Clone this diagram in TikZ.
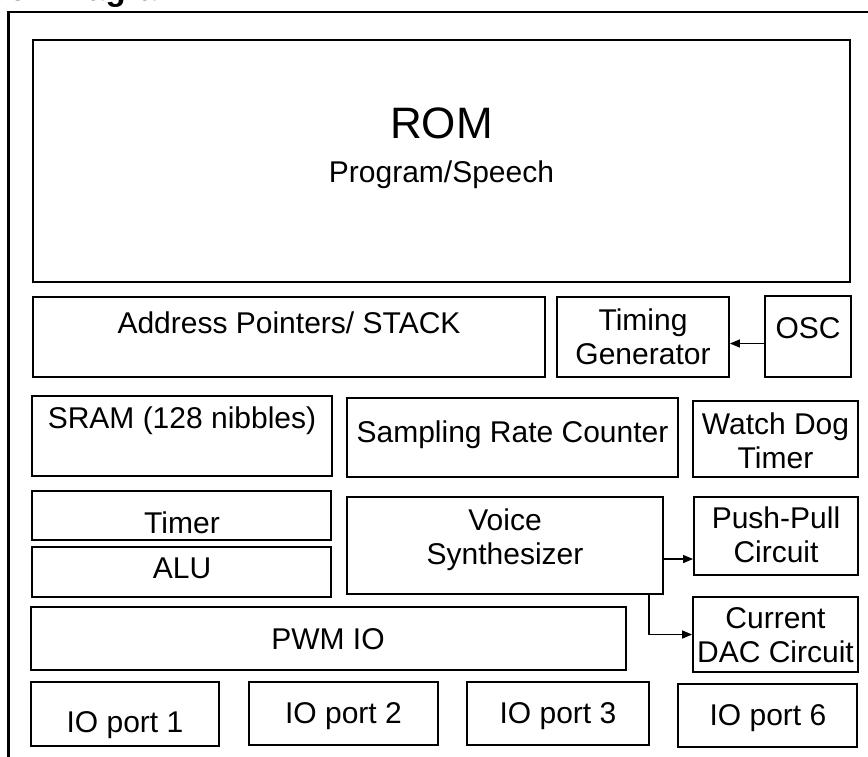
\documentclass[tikz,border=0pt]{standalone}
\usepackage{fontspec}
\setmainfont{Liberation Sans}
\usetikzlibrary{fit,arrows.meta}

\begin{document}
\begin{tikzpicture}[x=1pt,y=-1pt,
  blk/.style={draw,line width=1.8pt,inner sep=0pt},
  txt/.style={inner sep=0pt,anchor=base,font=\fontsize{30}{34}\selectfont},
  mtxt/.style={inner sep=0pt,align=center,font=\fontsize{30}{34}\selectfont},
  arr/.style={line width=1.3pt,-{Triangle[length=10pt,width=8pt]}}]
\useasboundingbox (0,0) rectangle (868,756);
\node[anchor=base west,inner sep=0pt,font=\bfseries\fontsize{33}{36}\selectfont] (title) at (-45,0) {Block Diagram};
\draw[line width=2.2pt] (8.5,12) rectangle (900,800); % ---- outer frame

% ---- memory and clock
\node[blk,fit={(33,40) (850,282)}] (rom) {};
\node[txt,font=\fontsize{44}{48}\selectfont] (romname) at (441.5,138) {ROM};
\node[txt] (romuse) at (441.5,182) {Program/Speech};
\node[blk,fit={(33,297) (545,377)}] (stack) {};
\node[txt] (stacktxt) at (289,333) {Address Pointers/ STACK};
\node[blk,fit={(557,297) (729,377)}] (tg) {};
\node[mtxt] (tgtxt) at (643,337) {Timing\\Generator};
\node[blk,fit={(765,296) (851,377)}] (osc) {};
\node[txt] (osctxt) at (808,338) {OSC};

% ---- middle rows
\node[blk,fit={(32,396) (332,476)}] (sram) {};
\node[txt] (sramtxt) at (182,428) {SRAM (128 nibbles)};
\node[blk,fit={(347,398) (678,477)}] (src) {};
\node[txt] (srctxt) at (512.5,442) {Sampling Rate Counter};
\node[blk,fit={(693,401) (858,477)}] (wdt) {};
\node[mtxt] (wdttxt) at (775.5,441) {Watch Dog\\Timer};
\node[blk,fit={(32,491) (331,540)}] (timer) {};
\node[txt] (timertxt) at (182,533) {Timer};
\node[blk,fit={(32,547) (331,597)}] (alu) {};
\node[txt] (alutxt) at (182,578) {ALU};
\node[blk,fit={(347,497) (663,594)}] (vs) {};
\node[mtxt] (vstxt) at (505,539.5) {Voice\\Synthesizer};
\node[blk,fit={(694,497) (858,575)}] (pp) {};
\node[mtxt] (pptxt) at (776,535) {Push-Pull\\Circuit};
\node[blk,fit={(693,597) (858,672)}] (dac) {};
\node[mtxt] (dactxt) at (775.5,635) {Current\\DAC Circuit};

% ---- io
\node[blk,fit={(31,607) (626,670)}] (pwm) {};
\node[txt] (pwmtxt) at (328,649) {PWM IO};
\node[blk,fit={(31,682) (219,746)}] (io1) {};
\node[txt] (io1txt) at (125,732) {IO port 1};
\node[blk,fit={(249,682) (438,745)}] (io2) {};
\node[txt] (io2txt) at (343.5,723) {IO port 2};
\node[blk,fit={(467,682) (649,745)}] (io3) {};
\node[txt] (io3txt) at (558,723) {IO port 3};
\node[blk,fit={(678,684) (857,747)}] (io6) {};
\node[txt] (io6txt) at (768,725) {IO port 6};

% ---- connections
\draw[arr] ([yshift=-7pt]osc.west) -- ([yshift=-7pt]osc.west -| tg.east);
\coordinate (vsout) at ([yshift=-13.5pt]vs.east);
\draw[arr] (vsout) -- (vsout -| pp.west);
\coordinate (vstap) at ([xshift=-15pt]vs.south east);
\draw[arr] (vstap) |- (dac.west);
\end{tikzpicture}
\end{document}
